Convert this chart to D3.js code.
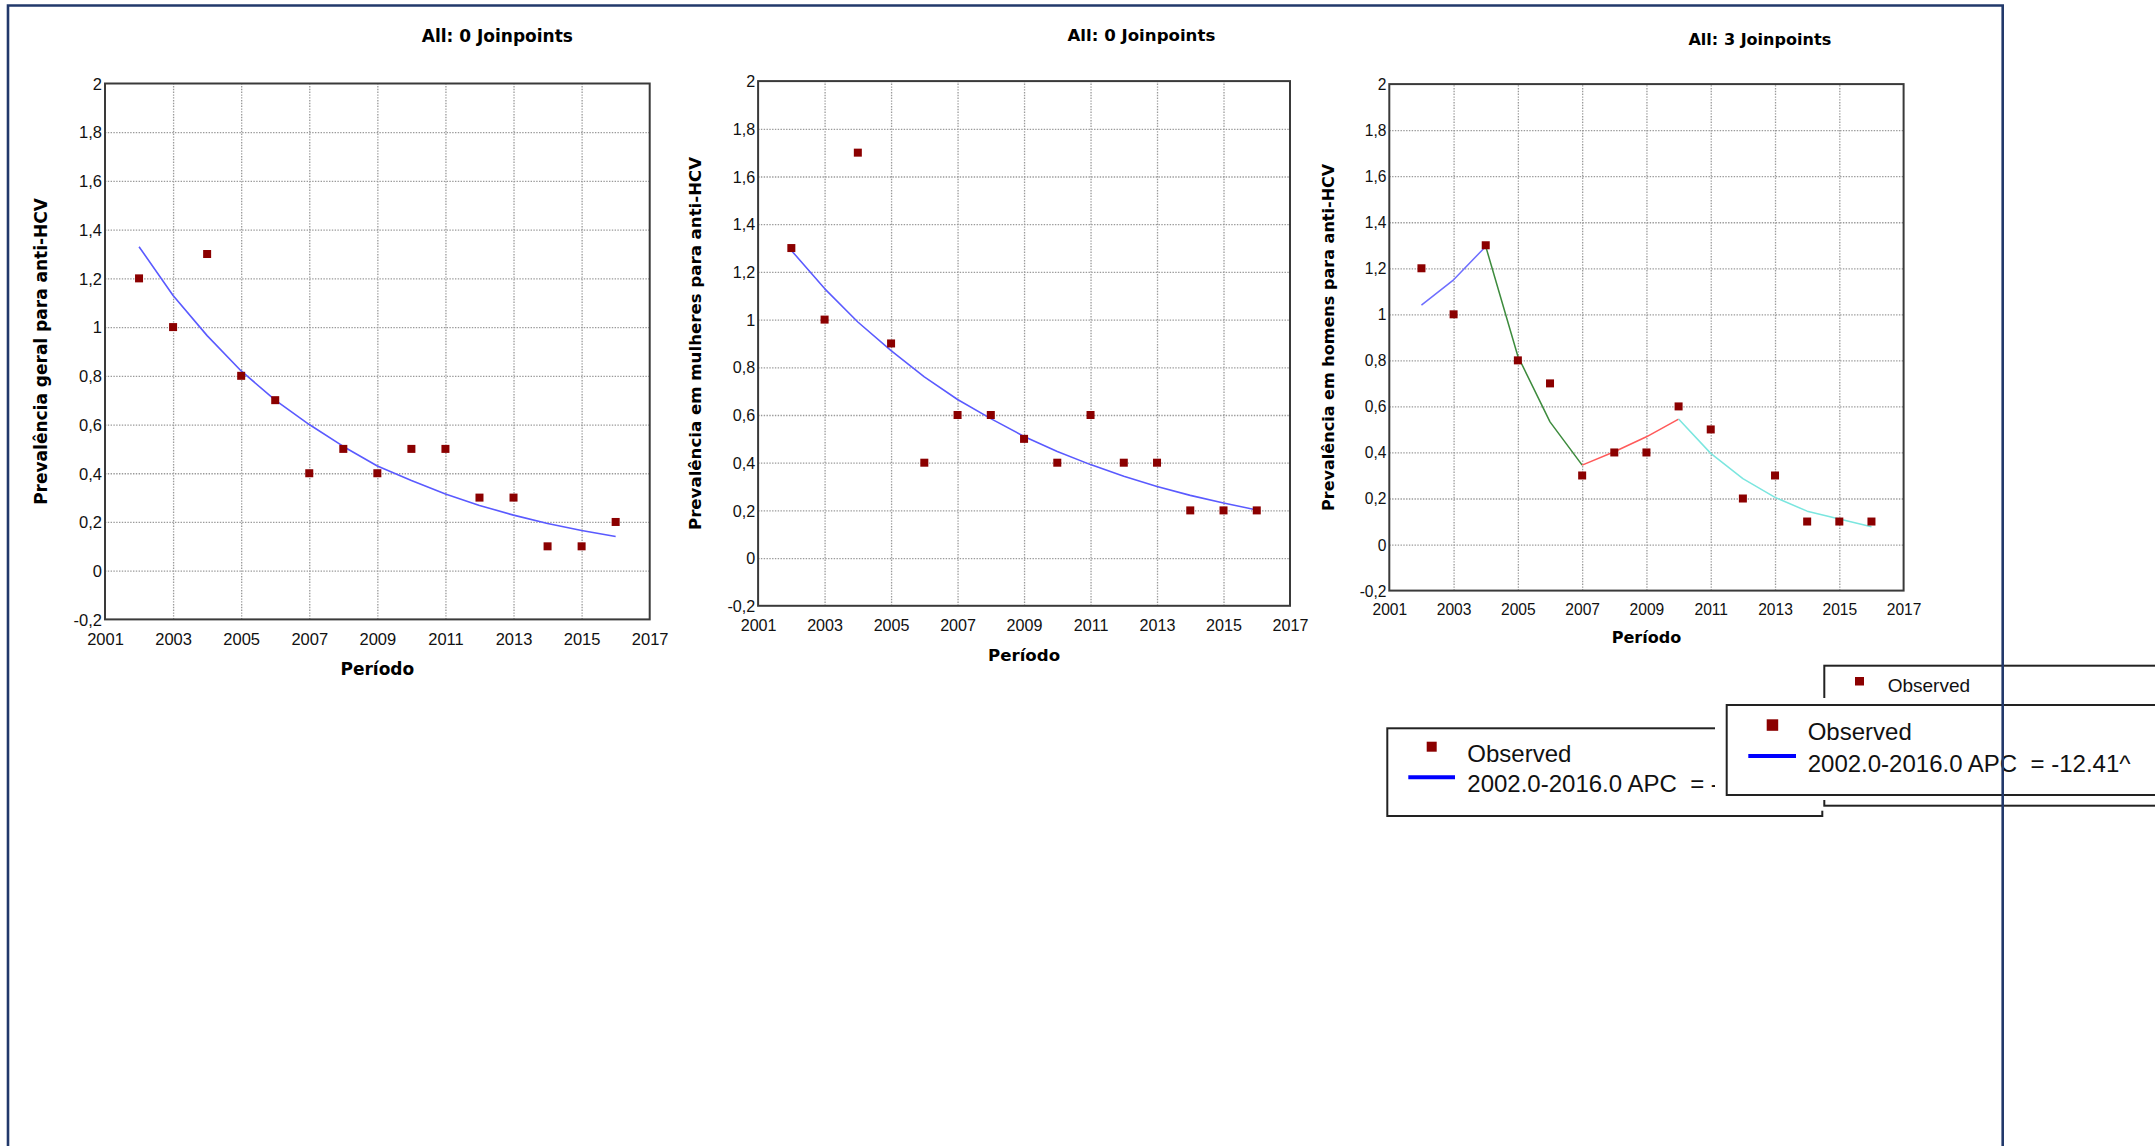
<!DOCTYPE html>
<html>
<head>
<meta charset="utf-8">
<script src="https://cdn.jsdelivr.net/npm/d3@7"></script>
<style>
  html, body { margin: 0; padding: 0; background: #ffffff; overflow: hidden; }
  svg text { white-space: pre; }
</style>
</head>
<body>
<svg id="chart" width="2155" height="1146"></svg>
<script>
// ---------------- DATA ----------------
const years = [2002, 2003, 2004, 2005, 2006, 2007, 2008, 2009, 2010, 2011, 2012, 2013, 2014, 2015, 2016];

// Chart 1 – Prevalência geral
const observedGeral = [1.2, 1.0, 1.3, 0.8, 0.7, 0.4, 0.5, 0.4, 0.5, 0.5, 0.3, 0.3, 0.1, 0.1, 0.2];
const fitGeral      = [1.33, 1.13, 0.965, 0.82, 0.70, 0.60, 0.51, 0.43, 0.37, 0.315, 0.268, 0.228, 0.194, 0.165, 0.14];

// Chart 2 – Prevalência em mulheres
const observedMulheres = [1.3, 1.0, 1.7, 0.9, 0.4, 0.6, 0.6, 0.5, 0.4, 0.6, 0.4, 0.4, 0.2, 0.2, 0.2];
const fitMulheres      = [1.29, 1.13, 0.99, 0.87, 0.76, 0.665, 0.585, 0.51, 0.447, 0.392, 0.343, 0.30, 0.263, 0.231, 0.202];

// Chart 3 – Prevalência em homens (3 joinpoints -> 4 segments)
const observedHomens = [1.2, 1.0, 1.3, 0.8, 0.7, 0.3, 0.4, 0.4, 0.6, 0.5, 0.2, 0.3, 0.1, 0.1, 0.1];
const homensSegYears = [
  [2002, 2003, 2004],
  [2004, 2005, 2006, 2007],
  [2007, 2008, 2009, 2010],
  [2010, 2011, 2012, 2013, 2014, 2015, 2016]
];
const homensSegValues = [
  [1.04, 1.15, 1.295],
  [1.295, 0.818, 0.533, 0.345],
  [0.345, 0.403, 0.468, 0.545],
  [0.545, 0.396, 0.286, 0.205, 0.145, 0.111, 0.077]
];

// Axes / ticks
const xDomain = [2001, 2017];
const yDomain = [-0.2, 2];
const xTicks = [2001, 2003, 2005, 2007, 2009, 2011, 2013, 2015, 2017];
const yTicks = [-0.2, 0, 0.2, 0.4, 0.6, 0.8, 1, 1.2, 1.4, 1.6, 1.8, 2];
const yTickLabels = ["-0,2", "0", "0,2", "0,4", "0,6", "0,8", "1", "1,2", "1,4", "1,6", "1,8", "2"];

// Texts
const chartTitles = ["All: 0 Joinpoints", "All: 0 Joinpoints", "All: 3 Joinpoints"];
const yAxisTitles = [
  "Prevalência geral para anti-HCV",
  "Prevalência em mulheres para anti-HCV",
  "Prevalência em homens para anti-HCV"
];
const xAxisTitle = "Período";
const legendObserved = "Observed";
const legendGeralText = "2002.0-2016.0 APC  = -";
const legendMulheresText = "2002.0-2016.0 APC  = -12.41^";

// ---------------- STYLE / LAYOUT ----------------
const markerColor = "#8b0000";
const fitColor = "#5a5aff";
const segColors = ["#6e6eff", "#3d8b3d", "#ff5a5a", "#7be6df"];
const frameColor = "#22396b";
const panels = [
  { x0: 105.0, x1: 649.7, y0: 83.5, y1: 619.4, k: 1.0 },
  { x0: 758.1, x1: 1290.0, y0: 81.1, y1: 605.8, k: 0.978 },
  { x0: 1389.3, x1: 1903.6, y0: 84.1, y1: 590.6, k: 0.945 }
];
const boldFont = "'DejaVu Sans', Verdana, sans-serif";
const plainFont = "'Liberation Sans', Arial, sans-serif";

const svg = d3.select("#chart");
svg.append("rect").attr("width", 2155).attr("height", 1146).attr("fill", "#ffffff");

function drawPanel(i, observed, fitSegments) {
  const p = panels[i];
  const k = p.k;
  const x = d3.scaleLinear().domain(xDomain).range([p.x0, p.x1]);
  const y = d3.scaleLinear().domain(yDomain).range([p.y1, p.y0]);
  const g = svg.append("g");

  // grid (internal lines only)
  const gx = g.append("g").attr("transform", `translate(0,${p.y1})`)
    .call(d3.axisBottom(x).tickValues(xTicks.slice(1, -1)).tickSize(-(p.y1 - p.y0)).tickFormat(""));
  const gy = g.append("g").attr("transform", `translate(${p.x0},0)`)
    .call(d3.axisLeft(y).tickValues(yTicks.slice(1, -1)).tickSize(-(p.x1 - p.x0)).tickFormat(""));
  [gx, gy].forEach(a => {
    a.select(".domain").remove();
    a.selectAll("line").attr("stroke", "#9a9a9a").attr("stroke-width", 1.3).attr("stroke-dasharray", "1.4,1.4");
  });

  // plot frame
  g.append("rect").attr("x", p.x0).attr("y", p.y0)
    .attr("width", p.x1 - p.x0).attr("height", p.y1 - p.y0)
    .attr("fill", "none").attr("stroke", "#3a3a3a").attr("stroke-width", 2);

  // tick labels
  const ax = g.append("g").attr("transform", `translate(0,${p.y1})`)
    .call(d3.axisBottom(x).tickValues(xTicks).tickSize(0).tickFormat(d3.format("d")));
  ax.select(".domain").remove();
  ax.selectAll("text").attr("y", 20 * k).attr("dy", "0.35em")
    .attr("font-family", plainFont).attr("font-size", 16.5 * k).attr("fill", "#111");

  const ay = g.append("g").attr("transform", `translate(${p.x0},0)`)
    .call(d3.axisLeft(y).tickValues(yTicks).tickSize(0).tickPadding(3 * k)
      .tickFormat((d, j) => yTickLabels[j]));
  ay.select(".domain").remove();
  ay.selectAll("text").attr("dy", "0.35em")
    .attr("font-family", plainFont).attr("font-size", 16.5 * k).attr("fill", "#111");

  // titles
  const midX = (p.x0 + p.x1) / 2, midY = (p.y0 + p.y1) / 2;
  g.append("text").attr("x", midX + 120 * k).attr("y", p.y0 - 41.5 * k)
    .attr("text-anchor", "middle").attr("font-family", boldFont).attr("font-weight", "bold")
    .attr("font-size", 17 * k).attr("fill", "#000").text(chartTitles[i]);
  g.append("text").attr("x", midX).attr("y", p.y1 + 50 * k).attr("dy", "0.35em")
    .attr("text-anchor", "middle").attr("font-family", boldFont).attr("font-weight", "bold")
    .attr("font-size", 17 * k).attr("fill", "#000").text(xAxisTitle);
  g.append("text").attr("transform", `translate(${p.x0 - 64 * k},${midY}) rotate(-90)`)
    .attr("dy", "0.35em").attr("text-anchor", "middle").attr("font-family", boldFont)
    .attr("font-weight", "bold").attr("font-size", 17 * k).attr("fill", "#000").text(yAxisTitles[i]);

  // fit lines
  const line = d3.line().x(d => x(d[0])).y(d => y(d[1]));
  fitSegments.forEach(s => {
    g.append("path").datum(d3.zip(s.years, s.values))
      .attr("d", line).attr("fill", "none").attr("stroke", s.color)
      .attr("stroke-width", 1.6 * k).attr("stroke-linejoin", "round");
  });

  // observed markers
  const m = 8;
  g.append("g").selectAll("rect").data(d3.zip(years, observed)).join("rect")
    .attr("x", d => x(d[0]) - m / 2).attr("y", d => y(d[1]) - m / 2)
    .attr("width", m).attr("height", m).attr("fill", markerColor);
}

drawPanel(0, observedGeral, [{ years: years, values: fitGeral, color: fitColor }]);
drawPanel(1, observedMulheres, [{ years: years, values: fitMulheres, color: fitColor }]);
drawPanel(2, observedHomens, homensSegYears.map((yy, j) => ({ years: yy, values: homensSegValues[j], color: segColors[j] })));

// ---------------- LEGENDS ----------------
// Legend A (chart 1), partly covered
const lgA = svg.append("g");
lgA.append("rect").attr("x", 1387.3).attr("y", 728.3).attr("width", 435).attr("height", 87.7)
  .attr("fill", "#fff").attr("stroke", "#222").attr("stroke-width", 2);
lgA.append("rect").attr("x", 1426.7).attr("y", 741.7).attr("width", 10).attr("height", 10).attr("fill", markerColor);
lgA.append("text").attr("x", 1467.3).attr("y", 761.7).attr("font-family", plainFont)
  .attr("font-size", 24).attr("fill", "#111").text(legendObserved);
lgA.append("line").attr("x1", 1408.3).attr("x2", 1455).attr("y1", 777.3).attr("y2", 777.3)
  .attr("stroke", "#0000ff").attr("stroke-width", 4);
lgA.append("text").attr("x", 1467.3).attr("y", 791.7).attr("font-family", plainFont)
  .attr("font-size", 24).attr("fill", "#111").text(legendGeralText);

// Legend B (chart 3), mostly covered
const lgB = svg.append("g");
lgB.append("rect").attr("x", 1819).attr("y", 660).attr("width", 400).attr("height", 150.7).attr("fill", "#fff");
lgB.append("rect").attr("x", 1824.3).attr("y", 665.7).attr("width", 400).attr("height", 140)
  .attr("fill", "#fff").attr("stroke", "#222").attr("stroke-width", 2);
lgB.append("rect").attr("x", 1855).attr("y", 677).attr("width", 9).attr("height", 8.5).attr("fill", markerColor);
lgB.append("text").attr("x", 1887.7).attr("y", 692).attr("font-family", plainFont)
  .attr("font-size", 19).attr("fill", "#111").text(legendObserved);

// Legend C (chart 2), on top
const lgC = svg.append("g");
lgC.append("rect").attr("x", 1715).attr("y", 698).attr("width", 500).attr("height", 102).attr("fill", "#fff");
lgC.append("rect").attr("x", 1726.7).attr("y", 705).attr("width", 500).attr("height", 90)
  .attr("fill", "#fff").attr("stroke", "#222").attr("stroke-width", 2);
lgC.append("rect").attr("x", 1766.7).attr("y", 719.3).attr("width", 11.5).attr("height", 11.5).attr("fill", markerColor);
lgC.append("text").attr("x", 1807.7).attr("y", 740).attr("font-family", plainFont)
  .attr("font-size", 24).attr("fill", "#111").text(legendObserved);
lgC.append("line").attr("x1", 1748.3).attr("x2", 1796).attr("y1", 756).attr("y2", 756)
  .attr("stroke", "#0000ff").attr("stroke-width", 4);
lgC.append("text").attr("x", 1807.7).attr("y", 771.7).attr("font-family", plainFont)
  .attr("font-size", 24).attr("fill", "#111").text(legendMulheresText);

// ---------------- OUTER FRAME ----------------
svg.append("path").attr("d", "M8,1150 V5.5 H2002.7 V1150")
  .attr("fill", "none").attr("stroke", frameColor).attr("stroke-width", 2.6);
</script>
</body>
</html>
